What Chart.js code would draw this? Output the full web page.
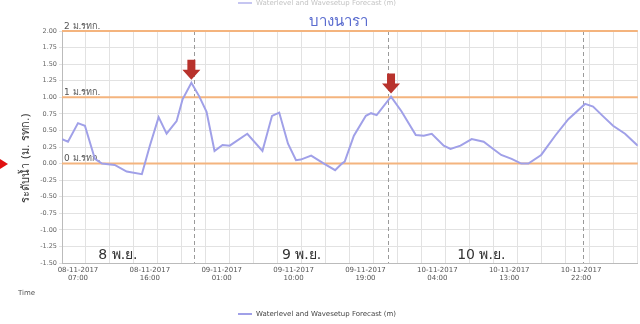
<!DOCTYPE html>
<html>
<head>
<meta charset="utf-8">
<script src="https://cdn.jsdelivr.net/npm/chart.js@4"></script>
<style>
  html, body { margin: 0; padding: 0; background: #fff; overflow: hidden; }
  #wrap { width: 640px; height: 324px; }
</style>
</head>
<body>
<div id="wrap"><canvas id="waterGraph" width="640" height="324"></canvas></div>
<script>
// hours counted from 08-11-2017 00:00
const hours = [5, 5.75, 7, 7.87, 9.12, 10, 11.6, 13.1, 15, 16, 17.1, 18.1, 19.35, 20.1, 21.2, 22.2, 23.1,
  24.1, 25.1, 26, 28.2, 30.1, 31.3, 32.2, 33.3, 34.3, 34.9, 36.2, 37.8, 39.2, 40.05, 40.4, 41.55, 43.05,
  43.7, 44.4, 46.2, 47.5, 49.3, 50.3, 51.3, 52.8, 53.65, 54.9, 56.3, 57.8, 59, 60, 61.3, 62.5, 63.4,
  65, 66.75, 68.4, 70.5, 71.5, 72.7, 74, 75.5, 77.1];
const levels = [0.37, 0.33, 0.61, 0.57, 0.07, 0.0, -0.02, -0.12, -0.16, 0.27, 0.70, 0.45, 0.64, 0.97, 1.22, 1.01, 0.78,
  0.19, 0.28, 0.27, 0.45, 0.19, 0.72, 0.77, 0.30, 0.05, 0.06, 0.12, 0.0, -0.10, 0.0, 0.03, 0.42, 0.72,
  0.76, 0.73, 1.01, 0.79, 0.43, 0.42, 0.45, 0.27, 0.22, 0.27, 0.37, 0.33, 0.22, 0.13, 0.07, 0.0, 0.0,
  0.13, 0.42, 0.67, 0.90, 0.86, 0.72, 0.57, 0.45, 0.27];

const xTickHours = [7, 16, 25, 34, 43, 52, 61, 70];
const xTickLabels = [['08-11-2017', '07:00'], ['08-11-2017', '16:00'], ['09-11-2017', '01:00'], ['09-11-2017', '10:00'],
  ['09-11-2017', '19:00'], ['10-11-2017', '04:00'], ['10-11-2017', '13:00'], ['10-11-2017', '22:00']];

const refLevels = [2, 1, 0];
const refLabels = ['2 ม.รทก.', '1 ม.รทก.', '0 ม.รทก.'];
const dashHours = [21.5, 45.8, 70.2];
const dayHours = [12, 35, 57.5];
const dayLabels = ['8 พ.ย.', '9 พ.ย.', '10 พ.ย.'];
const peakIndex = [14, 36];

const seriesName = 'Waterlevel and Wavesetup Forecast (m)';
const lineColor = 'rgb(160, 160, 232)';

const extras = {
  id: 'extras',
  beforeDatasetsDraw(chart) {
    const ctx = chart.ctx, a = chart.chartArea;
    const x = chart.scales.x, y = chart.scales.y;
    ctx.save();
    // dashed day markers
    ctx.strokeStyle = '#9a9a9a';
    ctx.lineWidth = 1;
    ctx.setLineDash([4, 3]);
    dashHours.forEach(h => {
      const px = Math.round(x.getPixelForValue(h)) + 0.5;
      ctx.beginPath(); ctx.moveTo(px, a.top); ctx.lineTo(px, a.bottom); ctx.stroke();
    });
    ctx.setLineDash([]);
    // reference levels
    ctx.strokeStyle = '#f4b47e';
    ctx.lineWidth = 2;
    ctx.font = '9px "DejaVu Sans", sans-serif';
    ctx.fillStyle = '#555';
    ctx.textBaseline = 'bottom';
    refLevels.forEach((v, i) => {
      const py = y.getPixelForValue(v);
      ctx.beginPath(); ctx.moveTo(a.left, py); ctx.lineTo(a.right, py); ctx.stroke();
      ctx.fillText(refLabels[i], a.left + 2, py);
    });
    ctx.restore();
  },
  afterDraw(chart) {
    const ctx = chart.ctx, a = chart.chartArea;
    const x = chart.scales.x;
    const pts = chart.getDatasetMeta(0).data;
    ctx.save();
    // peak arrows
    ctx.fillStyle = '#b8322c';
    peakIndex.forEach(i => {
      const p = pts[i];
      const tip = p.y - 3;
      ctx.beginPath();
      ctx.moveTo(p.x - 4, tip - 20);
      ctx.lineTo(p.x + 4, tip - 20);
      ctx.lineTo(p.x + 4, tip - 10);
      ctx.lineTo(p.x + 9, tip - 10);
      ctx.lineTo(p.x, tip);
      ctx.lineTo(p.x - 9, tip - 10);
      ctx.lineTo(p.x - 4, tip - 10);
      ctx.closePath();
      ctx.fill();
    });
    // day labels
    ctx.fillStyle = '#333';
    ctx.font = '14px "DejaVu Sans", sans-serif';
    ctx.textAlign = 'center';
    ctx.textBaseline = 'bottom';
    dayHours.forEach((h, i) => ctx.fillText(dayLabels[i], x.getPixelForValue(h), a.bottom - 1));
    // station title
    ctx.fillStyle = '#5a6ccf';
    ctx.font = '15px "DejaVu Sans", sans-serif';
    ctx.fillText('บางนารา', 338, 30);
    // y title
    ctx.save();
    ctx.translate(26, 158);
    ctx.rotate(-Math.PI / 2);
    ctx.fillStyle = '#333';
    ctx.font = '11px "DejaVu Sans", sans-serif';
    ctx.textBaseline = 'middle';
    ctx.fillText('ระดับน้ำ (ม. รทก.)', 0, 0);
    ctx.restore();
    // red pointer on the left
    ctx.fillStyle = '#e01010';
    ctx.beginPath(); ctx.moveTo(0, 159); ctx.lineTo(8, 164); ctx.lineTo(0, 169); ctx.closePath(); ctx.fill();
    // Time
    ctx.fillStyle = '#555';
    ctx.font = '7px "DejaVu Sans", sans-serif';
    ctx.textAlign = 'left';
    ctx.textBaseline = 'middle';
    ctx.fillText('Time', 18, 293);
    // legends (bottom and cut top)
    [[314, '#444', 1], [3, '#999', 0.6]].forEach(([ly, col, al]) => {
      ctx.globalAlpha = al;
      ctx.strokeStyle = lineColor;
      ctx.lineWidth = 2;
      ctx.beginPath(); ctx.moveTo(238, ly); ctx.lineTo(252, ly); ctx.stroke();
      ctx.fillStyle = col;
      ctx.fillText(seriesName, 256, ly);
    });
    ctx.restore();
  }
};

const graph = document.getElementById('waterGraph');
const config = {
  type: 'line',
  data: {
    datasets: [{
      label: seriesName,
      data: hours.map((h, i) => ({ x: h, y: levels[i] })),
      borderColor: lineColor,
      borderWidth: 2,
      pointRadius: 0,
      fill: false,
      tension: 0
    }]
  },
  options: {
    responsive: false,
    animation: false,
    layout: { padding: { top: 31, left: 0, right: -4, bottom: 0 } },
    plugins: { legend: { display: false }, tooltip: { enabled: false } },
    scales: {
      x: {
        type: 'linear',
        min: 5,
        max: 77.1,
        afterBuildTicks(scale) {
          const t = [];
          for (let h = 5; h <= 77; h++) t.push({ value: h });
          scale.ticks = t;
        },
        afterFit(scale) { scale.height = 61; },
        grid: {
          color: c => (c.tick && (c.tick.value - 5) % 3 === 0) ? '#e2e2e2' : 'rgba(0,0,0,0)',
          drawTicks: false
        },
        border: { color: '#bbb' },
        ticks: {
          autoSkip: false,
          maxRotation: 0,
          padding: 3,
          color: '#555',
          font: { size: 7, family: '"DejaVu Sans", sans-serif', lineHeight: 1.2 },
          callback: v => {
            const k = xTickHours.indexOf(v);
            return k >= 0 ? xTickLabels[k] : '';
          }
        }
      },
      y: {
        min: -1.5,
        max: 2,
        afterFit(scale) { scale.width = 62; },
        grid: { color: '#e2e2e2', tickLength: 3 },
        border: { color: '#bbb' },
        ticks: {
          stepSize: 0.25,
          padding: 2,
          color: '#666',
          font: { size: 6.5, family: '"DejaVu Sans", sans-serif' },
          callback: v => v.toFixed(2)
        }
      }
    }
  },
  plugins: [extras]
};

let myGraph = new Chart(graph, config);
</script>
</body>
</html>
